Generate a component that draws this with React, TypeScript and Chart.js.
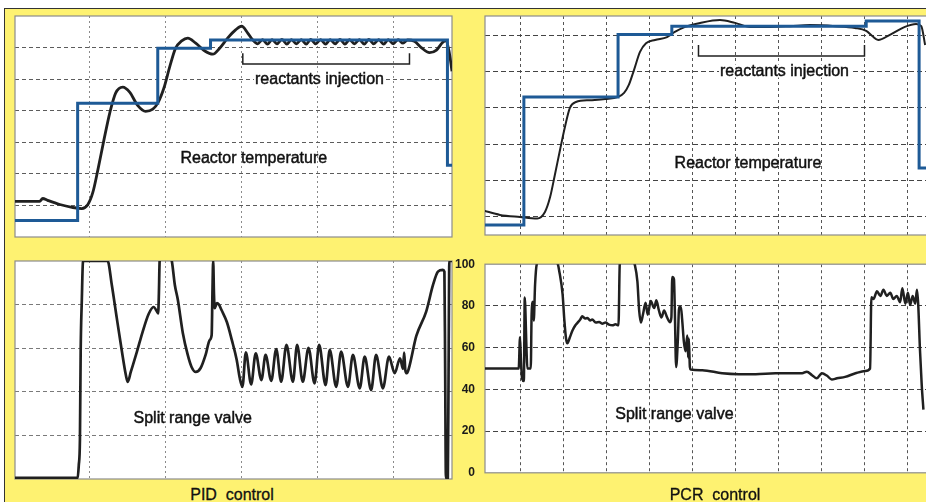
import React, { useEffect, useRef } from "react";
import { Chart, registerables } from "chart.js";
Chart.register(...registerables);

// ---------------- DATA ----------------
// PID control – reactor temperature (arbitrary temperature units, time in min)
const PID_SETPOINT_TIME = [0, 16.8, 37.9, 51.8, 114.2, 115.4];
const PID_SETPOINT = [5.2, 42.4, 59.8, 62.4, 22.7, 22.7];

const PID_TEMP_TIME = [
  0, 6.8, 7.6, 8.9, 12.1, 15.3, 17.9, 19.5, 20.8, 22.1, 23.7, 25.3, 26.8, 28.7, 30.5, 32.6,
  34.7, 36.6, 37.9, 39.5, 41.1, 42.6, 44.2, 45.8, 47.9, 50.3, 52.4, 54.2, 56.3, 58.4, 60.0,
  61.6, 63.0, 64.2, 65.5, 66.8, 68.0, 69.3, 70.6, 71.9, 73.1, 74.4, 75.7, 77.0, 78.2, 79.5,
  80.8, 82.1, 83.3, 84.6, 85.9, 87.2, 88.4, 89.7, 91.0, 92.3, 93.5, 94.8, 96.1, 97.4, 98.6,
  99.9, 101.2, 102.5, 103.7, 105.5, 107.3, 109.5, 111.3, 112.9, 113.8, 114.6, 115.4,
];
const PID_TEMP = [
  11.3, 11.3, 12.2, 11.6, 10.3, 9.4, 9.0, 10.3, 14.1, 21.1, 30.6, 39.5, 45.6, 47.5, 45.9, 41.7,
  39.8, 40.5, 42.4, 47.1, 54.1, 59.8, 62.1, 63.0, 61.4, 58.9, 57.9, 59.8, 63.0, 65.6, 66.8,
  64.6, 62.3, 61.2, 62.5, 61.1, 62.5, 61.2, 62.6, 61.1, 62.5, 61.2, 62.5, 61.1, 62.6, 61.2,
  62.5, 61.1, 62.5, 61.2, 62.6, 61.1, 62.5, 61.2, 62.5, 61.1, 62.6, 61.2, 62.5, 61.1, 62.5,
  61.2, 62.5, 61.4, 62.4, 62.0, 60.0, 58.4, 59.2, 61.6, 62.3, 59.0, 52.5,
];

// PID control – split range valve (%)
const PID_VALVE_TIME = [
  0, 16.8, 17.1, 17.4, 17.6, 17.9, 18.2, 18.5, 24.7, 25.8, 27.1, 28.4, 29.5, 30.0, 30.8, 32.4,
  33.9, 35.5, 36.8, 37.8, 38.0, 38.2, 38.4, 40.0, 41.6, 42.4, 43.2, 44.5, 45.8, 46.8, 47.9,
  49.2, 50.5, 51.6, 52.1, 52.3, 52.5, 52.7, 52.9, 53.5, 54.0, 54.7, 56.1, 57.4, 58.7, 59.5,
  60.2, 61.1, 62.5, 63.7, 65.2, 66.3, 67.8, 69.1, 70.4, 71.8, 73.5, 74.6, 76.1, 77.6, 79.2,
  80.4, 82.1, 83.2, 84.9, 86.2, 88.0, 89.3, 91.1, 92.4, 94.1, 95.4, 97.2, 98.8, 100.3, 101.7,
  102.5, 102.8, 103.1, 103.5, 104.0, 106.0, 108.6, 110.4, 111.7, 113.0, 113.4, 113.6, 113.8,
  114.3, 114.5, 114.7, 115.4,
];
const PID_VALVE = [
  0.5, 0.5, 6.4, 17.9, 59.2, 82.1, 99.5, 100, 100, 89, 73.9, 59.2, 47.7, 44.5, 49.1, 58.3,
  67.4, 75.7, 78.9, 76.5, 76.0, 85, 100, 106, 100, 89, 82.1, 67.0, 56.9, 51.4, 49.1,
  50.9, 56.9, 63.8, 66.1, 85, 100, 85, 78.4, 80.7, 80.0, 77.5, 72.0, 63.8, 54.6, 46.3,
  42.3, 58.1, 43.4, 57.6, 45.4, 56.9, 45.0, 59.6, 44.6, 61.5, 44.6, 61.5, 44.6, 60.2, 43.9,
  61.5, 43.1, 59.2, 42.3, 58.4, 42.3, 56.9, 41.6, 56.1, 40.8, 56.9, 41.6, 56.1, 48.5, 55.4,
  50.5, 58.0, 50.0, 48.5, 50.5, 65.6, 76.8, 89.0, 95.1, 95.9, 95.1, 50, 0.5,
  0.5, 50, 100, 100,
];

// PCR control – reactor temperature
const PCR_SETPOINT_TIME = [1.5, 10.9, 32.8, 45.3, 90.5, 102.8, 105.5];
const PCR_SETPOINT = [7.7, 43.0, 60.2, 62.5, 63.9, 23.4, 23.4];

const PCR_TEMP_TIME = [
  1.5, 5.35, 10.0, 14.0, 15.8, 17.0, 18.1, 19.3, 20.5, 21.6, 23.0, 26.3, 29.8, 32.8, 34.2,
  35.3, 36.5, 37.9, 39.3, 41.4, 44.2, 46.0, 48.4, 51.9, 56.5, 60.0, 63.5, 68.1, 72.8, 77.4,
  83.3, 87.9, 90.5, 91.9, 93.3, 96.0, 99.5, 102.1, 103.3, 104.2,
];
const PCR_TEMP = [
  11.7, 10.5, 9.9, 9.5, 11.3, 15.4, 21.5, 28.4, 35.0, 40.0, 41.6, 42.1, 42.4, 43.0, 44.1,
  46.3, 50.4, 55.4, 57.8, 58.7, 59.5, 60.9, 62.3, 63.4, 64.2, 63.4, 62.3, 62.3, 62.5, 62.8,
  62.5, 62.0, 61.2, 59.8, 58.7, 60.1, 62.3, 63.1, 62.5, 57.3,
];

// PCR control – split range valve (%)
const PCR_VALVE_TIME = [
  1.5, 9.7, 10.0, 10.2, 10.5, 10.9, 11.1, 11.5, 11.7, 12.5, 12.7, 13.0, 13.2, 13.5, 13.9,
  16.4, 18.8, 19.1, 19.9, 20.3, 20.7, 21.0, 21.6, 22.2, 22.8, 23.4, 24.0, 24.5, 25.1, 25.7,
  26.3, 26.8, 27.6, 28.4, 29.1, 29.9, 30.7, 31.5, 32.2, 32.9, 33.2, 35.0, 36.75, 37.3, 37.7,
  38.1, 38.6, 39.2, 39.7, 40.4, 41.2, 41.7, 42.3, 42.9, 43.5, 44.2, 44.9, 45.2, 45.4, 45.8,
  46.0, 46.3, 46.7, 47.0, 47.4, 47.7, 48.1, 48.5, 48.9, 49.1, 49.25, 49.5, 49.7, 52.4, 57.0,
  60.9, 64.8, 69.4, 72.5, 75.6, 76.7, 77.9, 79.0, 80.2, 81.4, 82.5, 83.7, 85.6, 88.0, 90.3,
  91.4, 91.7, 92.2, 93.0, 93.8, 94.5, 95.3, 96.1, 96.8, 97.6, 98.4, 98.9, 99.6, 100.2, 100.7,
  101.3, 101.9, 102.3, 102.6, 103.0, 103.4, 103.8,
];
const PCR_VALVE = [
  50, 50, 65, 55, 45, 44, 84, 60, 50, 50, 76, 82, 73, 90, 100,
  106, 100, 97, 85.6, 73.5, 64.4, 62.1, 65, 68.2, 70.5, 72, 73.5, 75, 74, 74.2,
  73, 73.5, 72, 72.3, 71.5, 72, 71, 70.7, 71.2, 70.7, 100, 106, 99.2, 91.6, 78,
  72, 76, 81.5, 75.8, 82.3, 79, 82.7, 77.8, 74.5, 77.8, 74.5, 72.2, 74.5, 93.9, 92.8,
  77.8, 50.7, 63.4, 79.5, 79.5, 73.5, 62.9, 58.3, 65.8, 55.3, 64.4, 50.7, 49.5, 49.2, 47.7,
  47.3, 47.3, 47.7, 47.7, 47.7, 48.5, 46.8, 45.3, 47.7, 46.5, 44.7, 45.3, 46.0, 47.7, 48.8,
  50.0, 84.1, 83.3, 87.0, 84.8, 87.7, 84.8, 86.3, 83.3, 84.8, 81.8, 88.5, 81.1, 86.3, 80.4,
  84.8, 81.1, 87.7, 80.4, 59.0, 42.4, 30.3,
];

// grid ticks
const PID_TIME_TICKS = [20, 40, 60, 80, 100];
const PCR_TIME_TICKS = [10, 20, 30, 40, 50, 60, 70, 80, 90, 100];
const TEMP_TICKS = [10, 20, 30, 40, 50, 60];
const VALVE_TICKS = [0, 20, 40, 60, 80, 100];

// reactants injection windows (time)
const PID_INJECTION = [60.3, 104.2];
const PCR_INJECTION = [51.5, 90.1];

// ---------------- LAYOUT / STYLE ----------------
const FONT = '"Liberation Sans", Arial, Helvetica, sans-serif';
const YELLOW = "#FEF271";
const BLUE = "#1E5A96";
const INK = "#202020";
const P = 4;
const AXIS_W = 33;

interface Series { t: number[]; v: number[]; color: string; width: number; stepped?: boolean }
interface Label { text: string; x: number; y: number; bg?: boolean }
interface PanelCfg {
  rect: [number, number, number, number];
  x: [number, number]; xTicks: number[];
  y: [number, number]; yTicks: number[];
  series: Series[];
  labels: Label[];
  bracket?: { from: number; to: number; y: number; top: number };
  hGrid: { color: string; dash: number[] };
  vGrid: { color: string; dash: number[] };
  axisLabels?: boolean;
}

const PANELS: PanelCfg[] = [
  {
    rect: [15, 16, 452, 237],
    x: [0.3, 115.4], xTicks: PID_TIME_TICKS,
    y: [0, 70], yTicks: TEMP_TICKS,
    series: [
      { t: PID_SETPOINT_TIME, v: PID_SETPOINT, color: BLUE, width: 3, stepped: true },
      { t: PID_TEMP_TIME, v: PID_TEMP, color: INK, width: 2.8 },
    ],
    labels: [
      { text: "Reactor temperature", x: 63.2, y: 23.3 },
      { text: "reactants injection", x: 80.5, y: 48.6, bg: true },
    ],
    bracket: { from: PID_INJECTION[0], to: PID_INJECTION[1], y: 54.8, top: 58.2 },
    hGrid: { color: "#5c5c5c", dash: [4, 3] },
    vGrid: { color: "#8a8a8a", dash: [2, 3] },
  },
  {
    rect: [485, 16, 929, 235],
    x: [1.86, 105.1], xTicks: PCR_TIME_TICKS,
    y: [4.96, 65.3], yTicks: TEMP_TICKS,
    series: [
      { t: PCR_SETPOINT_TIME, v: PCR_SETPOINT, color: BLUE, width: 3, stepped: true },
      { t: PCR_TEMP_TIME, v: PCR_TEMP, color: INK, width: 2 },
    ],
    labels: [
      { text: "Reactor temperature", x: 63.0, y: 23.4 },
      { text: "reactants injection", x: 71.5, y: 48.9, bg: true },
    ],
    bracket: { from: PCR_INJECTION[0], to: PCR_INJECTION[1], y: 54.3, top: 57.3 },
    hGrid: { color: "#444444", dash: [5, 3] },
    vGrid: { color: "#555555", dash: [3, 3] },
  },
  {
    rect: [15, 261, 452, 479],
    x: [0.3, 115.4], xTicks: PID_TIME_TICKS,
    y: [0, 100], yTicks: VALVE_TICKS,
    series: [{ t: PID_VALVE_TIME, v: PID_VALVE, color: INK, width: 2.7 }],
    labels: [{ text: "Split range valve", x: 47.1, y: 25.7 }],
    hGrid: { color: "#7a7a7a", dash: [4, 3] },
    vGrid: { color: "#8a8a8a", dash: [2, 3] },
  },
  {
    rect: [485, 259, 929, 478],
    x: [1.86, 105.1], xTicks: PCR_TIME_TICKS,
    y: [0, 100], yTicks: VALVE_TICKS,
    series: [{ t: PCR_VALVE_TIME, v: PCR_VALVE, color: INK, width: 2.5 }],
    labels: [{ text: "Split range valve", x: 45.9, y: 25.7 }],
    hGrid: { color: "#444444", dash: [5, 3] },
    vGrid: { color: "#555555", dash: [3, 3] },
    axisLabels: true,
  },
];

function Panel({ cfg }: { cfg: PanelCfg }) {
  const ref = useRef<HTMLCanvasElement>(null);
  const [l, t, r, b] = cfg.rect;
  const padL = cfg.axisLabels ? AXIS_W : P;
  const padTB = cfg.axisLabels ? 12 : P;

  useEffect(() => {
    const edge = (v: number) => v === cfg.y[0] || v === cfg.y[1] || v === 0 || v === 100;
    const plugin = {
      id: "paper",
      beforeDraw(chart: any) {
        const { ctx, chartArea: a } = chart;
        ctx.save();
        ctx.fillStyle = "#ffffff";
        ctx.fillRect(a.left, a.top, a.right - a.left, a.bottom - a.top);
        ctx.restore();
      },
      beforeDatasetsDraw(chart: any) {
        const { ctx, chartArea: a } = chart;
        ctx.save();
        ctx.strokeStyle = "#8c8c8c";
        ctx.lineWidth = 1.2;
        ctx.strokeRect(a.left, a.top, a.right - a.left, a.bottom - a.top);
        ctx.restore();
      },
      afterDatasetsDraw(chart: any) {
        const { ctx } = chart;
        const xs = chart.scales.x, ys = chart.scales.y;
        ctx.save();
        if (cfg.bracket) {
          const br = cfg.bracket;
          const x1 = xs.getPixelForValue(br.from), x2 = xs.getPixelForValue(br.to);
          const y1 = ys.getPixelForValue(br.y), y0 = ys.getPixelForValue(br.top);
          ctx.strokeStyle = INK;
          ctx.lineWidth = 1.5;
          ctx.beginPath();
          ctx.moveTo(x1, y0);
          ctx.lineTo(x1, y1);
          ctx.lineTo(x2, y1);
          ctx.lineTo(x2, y0);
          ctx.stroke();
        }
        ctx.font = `16px ${FONT}`;
        ctx.textAlign = "center";
        ctx.textBaseline = "alphabetic";
        for (const lb of cfg.labels) {
          const px = xs.getPixelForValue(lb.x), py = ys.getPixelForValue(lb.y);
          if (lb.bg) {
            const w = ctx.measureText(lb.text).width;
            ctx.fillStyle = "#ffffff";
            ctx.fillRect(px - w / 2 - 1, py - 11, w + 2, 13);
          }
          ctx.fillStyle = "#111111";
          ctx.strokeStyle = "#111111";
          ctx.lineWidth = 0.45;
          ctx.fillText(lb.text, px, py);
          ctx.strokeText(lb.text, px, py);
        }
        ctx.restore();
      },
    };

    const chart = new Chart(ref.current!, {
      type: "line",
      data: {
        datasets: cfg.series.map((s) => ({
          data: s.t.map((x, i) => ({ x, y: s.v[i] })),
          borderColor: s.color,
          borderWidth: s.width,
          pointRadius: 0,
          fill: false,
          stepped: s.stepped ? true : false,
          cubicInterpolationMode: s.stepped ? "default" : "monotone",
          tension: s.stepped ? 0 : 0.4,
          borderJoinStyle: s.stepped ? "miter" : "round",
          borderCapStyle: "butt",
        })) as any,
      },
      options: {
        animation: false,
        responsive: true,
        maintainAspectRatio: false,
        events: [],
        layout: { padding: { left: cfg.axisLabels ? 0 : P, right: P, top: padTB, bottom: padTB } },
        plugins: { legend: { display: false }, tooltip: { enabled: false } },
        scales: {
          x: {
            type: "linear",
            min: cfg.x[0],
            max: cfg.x[1],
            afterBuildTicks: (s: any) => { s.ticks = cfg.xTicks.map((value) => ({ value })); },
            ticks: { display: false },
            grid: { color: cfg.vGrid.color, lineWidth: 1, drawTicks: false },
            border: { display: false, dash: cfg.vGrid.dash },
          },
          y: {
            type: "linear",
            min: cfg.y[0],
            max: cfg.y[1],
            afterBuildTicks: (s: any) => { s.ticks = cfg.yTicks.map((value) => ({ value })); },
            afterFit: cfg.axisLabels ? (s: any) => { s.width = AXIS_W; } : undefined,
            ticks: {
              display: !!cfg.axisLabels,
              padding: 10,
              color: "#1a1a1a",
              font: { family: FONT, size: 12, weight: "bold" },
            },
            grid: {
              color: (c: any) => (c.tick && edge(c.tick.value) ? "rgba(0,0,0,0)" : cfg.hGrid.color),
              lineWidth: 1,
              drawTicks: false,
            },
            border: { display: false, dash: cfg.hGrid.dash },
          },
        },
      } as any,
      plugins: [plugin],
    });
    return () => chart.destroy();
  }, [cfg]);

  return (
    <div
      style={{
        position: "absolute",
        left: l - padL,
        top: t - padTB,
        width: r - l + padL + P,
        height: b - t + 2 * padTB,
      }}
    >
      <canvas ref={ref} />
    </div>
  );
}

const footer: React.CSSProperties = {
  position: "absolute",
  top: 487,
  fontFamily: FONT,
  fontSize: 16,
  lineHeight: "16px",
  color: "#111",
  whiteSpace: "pre",
  transform: "translateX(-50%)",
  WebkitTextStroke: "0.3px #111",
};

export default function App() {
  return (
    <div style={{ position: "fixed", left: 0, top: 0, width: 926, height: 502, overflow: "hidden", background: "#fff" }}>
      <div
        style={{
          position: "absolute",
          left: 4,
          top: 8,
          right: -10,
          bottom: -10,
          background: YELLOW,
          borderLeft: "1.5px solid #333",
          borderTop: "1.5px solid #333",
        }}
      />
      {PANELS.map((p, i) => (
        <Panel key={i} cfg={p} />
      ))}
      <div style={{ ...footer, left: 232 }}>PID  control</div>
      <div style={{ ...footer, left: 715 }}>PCR  control</div>
    </div>
  );
}
